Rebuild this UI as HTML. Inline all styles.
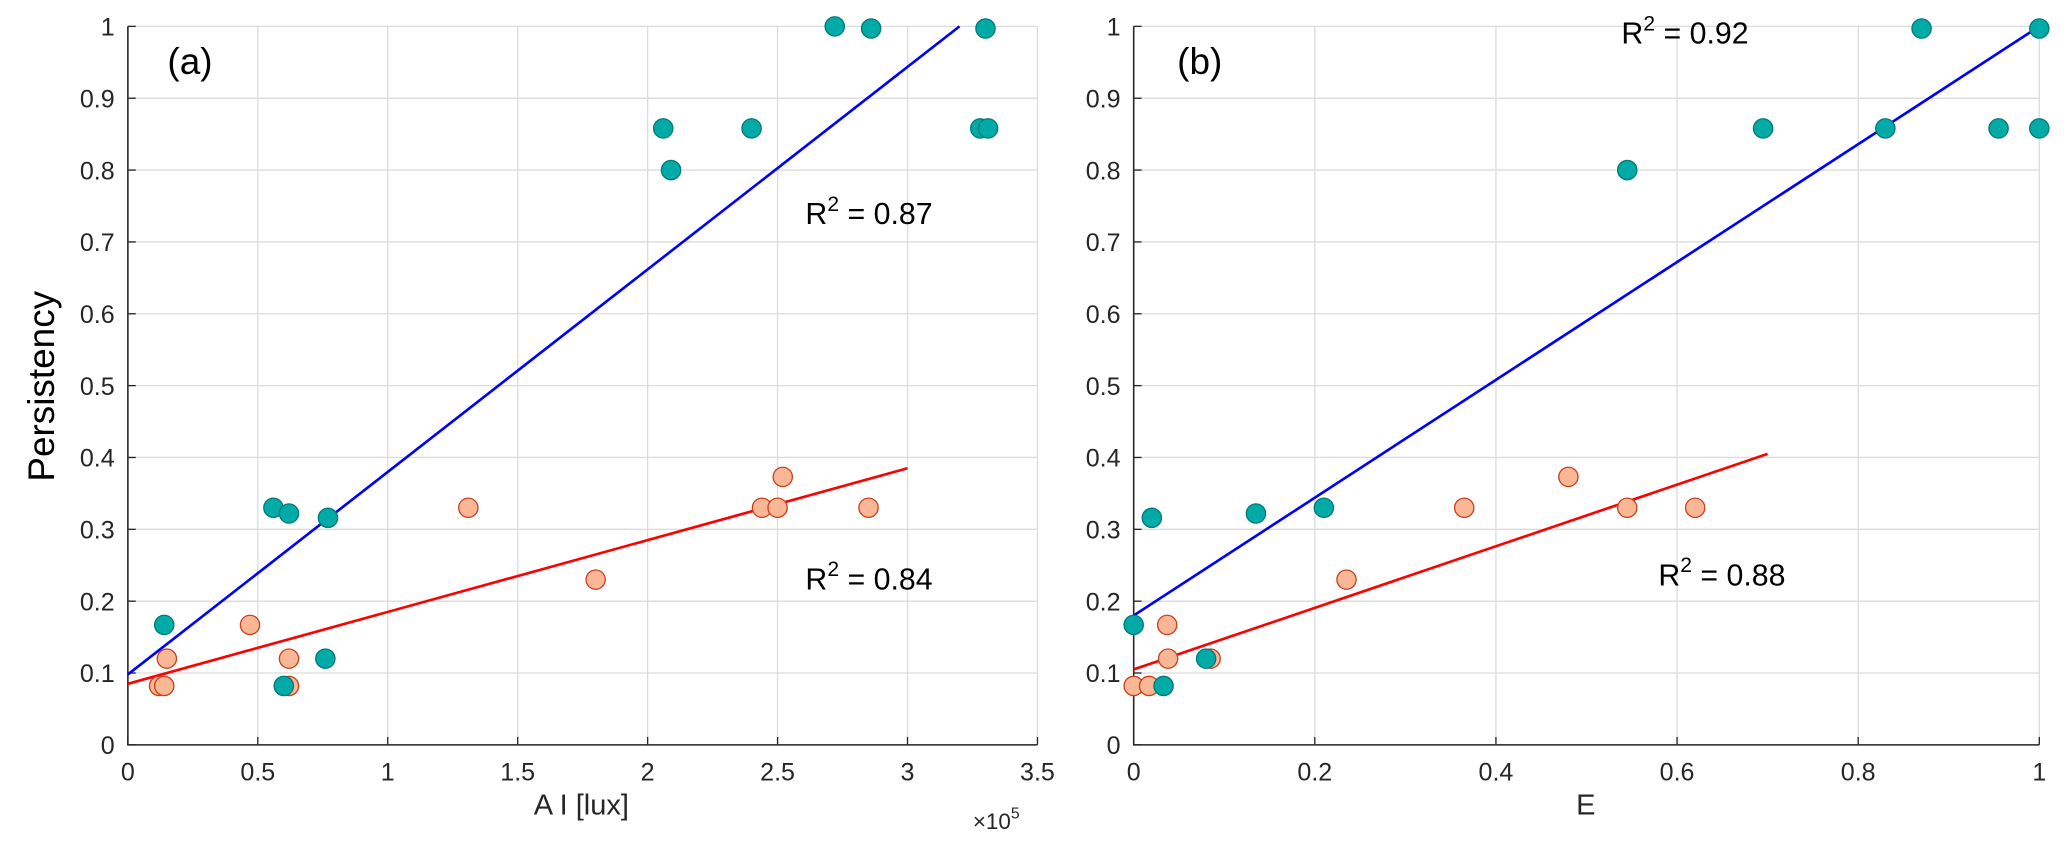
<!DOCTYPE html>
<html><head><meta charset="utf-8"><style>
html,body{margin:0;padding:0;background:#fff;}
svg{display:block;font-family:"Liberation Sans",sans-serif;}
</style></head><body>
<svg id="chart" width="2067" height="851" viewBox="0 0 1568 645.5" preserveAspectRatio="none">
<g id="pa"></g>
<g id="pb"></g>
</svg>
<script>
// Panel (a)
const aTealX=[0.14,0.56,0.62,0.77,0.60,0.76,2.06,2.09,2.40,2.72,2.86,3.30,3.28,3.31];
const aTealY=[0.167,0.33,0.322,0.316,0.082,0.12,0.858,0.80,0.858,1.0,0.997,0.997,0.858,0.858];
const aOrX=[0.12,0.14,0.15,0.47,0.62,0.62,1.31,1.80,2.44,2.50,2.52,2.85];
const aOrY=[0.082,0.082,0.12,0.167,0.12,0.082,0.33,0.23,0.33,0.33,0.373,0.33];
const aBlueFit=[[0,0.098],[3.2,1.0]];
const aRedFit=[[0,0.085],[3.0,0.385]];
const aXTicks=["0","0.5","1","1.5","2","2.5","3","3.5"];
const aXTickVals=[0,0.5,1,1.5,2,2.5,3,3.5];
// Panel (b)
const bTealX=[0,0.02,0.033,0.08,0.135,0.21,0.545,0.695,0.83,0.87,0.955,1.0,1.0];
const bTealY=[0.167,0.316,0.082,0.12,0.322,0.33,0.80,0.858,0.858,0.997,0.858,0.997,0.858];
const bOrX=[0,0.017,0.037,0.038,0.085,0.235,0.365,0.48,0.545,0.62];
const bOrY=[0.082,0.082,0.167,0.12,0.12,0.23,0.33,0.373,0.33,0.33];
const bBlueFit=[[0,0.18],[1,1.0]];
const bRedFit=[[0,0.105],[0.7,0.405]];
const bXTicks=["0","0.2","0.4","0.6","0.8","1"];
const bXTickVals=[0,0.2,0.4,0.6,0.8,1];
const yTickVals=[0,0.1,0.2,0.3,0.4,0.5,0.6,0.7,0.8,0.9,1];
const yTicks=["0","0.1","0.2","0.3","0.4","0.5","0.6","0.7","0.8","0.9","1"];

const NS="http://www.w3.org/2000/svg";
function mk(parent,tag,attrs,text){const e=document.createElementNS(NS,tag);for(const k in attrs)e.setAttribute(k,attrs[k]);if(text!==undefined)e.textContent=text;parent.appendChild(e);return e;}
const Y0=565,Y1=20;
function yS(v){return Y0+(Y1-Y0)*v;}

function panel(g,x0,x1,xmin,xmax,xv,xl,tx,ty,ox,oy,blue,red,label,labX,r1,r1pos,r2,r2pos,xtitle,xtitleX){
  const xS=v=>x0+(x1-x0)*(v-xmin)/(xmax-xmin);
  xv.forEach((v,i)=>{const l=mk(g,'line',{x1:xS(v),x2:xS(v),y1:Y1,y2:Y0,stroke:'#dcdcdc','stroke-width':1});
    
    
    const t=mk(g,'text',{x:xS(v),y:Y0+27,'text-anchor':'middle','font-size':19,fill:'#262626','textLength':'','lengthAdjust':'spacingAndGlyphs'},xl[i]);
    t.removeAttribute('textLength');
    
    
    mk(g,'line',{x1:xS(v),x2:xS(v),y1:Y0,y2:Y0-6,stroke:'#262626','stroke-width':1});
  });
  yTickVals.forEach((v,i)=>{const l=mk(g,'line',{x1:x0,x2:x1,y1:yS(v),y2:yS(v),stroke:'#dcdcdc','stroke-width':1});
    
    
    const t=mk(g,'text',{x:x0-10,y:yS(v)+7,'text-anchor':'end','font-size':19,fill:'#262626'},yTicks[i]);
    
    
    mk(g,'line',{x1:x0,x2:x0+6,y1:yS(v),y2:yS(v),stroke:'#262626','stroke-width':1});
  });
  const ax=mk(g,'path',{d:`M${x0},${Y1}V${Y0}H${x1}`,fill:'none',stroke:'#262626','stroke-width':1.2});
  
  
  const lb=mk(g,'line',{x1:xS(blue[0][0]),y1:yS(blue[0][1]),x2:xS(blue[1][0]),y2:yS(blue[1][1]),stroke:'#0000ff','stroke-width':2});
  
  
  const lr=mk(g,'line',{x1:xS(red[0][0]),y1:yS(red[0][1]),x2:xS(red[1][0]),y2:yS(red[1][1]),stroke:'#ff0000','stroke-width':2});
  
  
  ox.forEach((v,i)=>{const c=mk(g,'circle',{cx:xS(v),cy:yS(oy[i]),r:7.3,fill:'#f9b795',stroke:'#c8401e','stroke-width':1});
    
    });
  tx.forEach((v,i)=>{const c=mk(g,'circle',{cx:xS(v),cy:yS(ty[i]),r:7.3,fill:'#00aaa6',stroke:'#007a78','stroke-width':1});
    
    });
  const pl=mk(g,'text',{x:labX,y:56,'font-size':28,fill:'#000'},label);
  
  
  [[r1,r1pos],[r2,r2pos]].forEach(([val,pos])=>{const t=mk(g,'text',{x:pos[0],y:pos[1],'font-size':23,fill:'#000'});
    
    
    mk(t,'tspan',{},'R');mk(t,'tspan',{dy:-10,'font-size':16},'2');mk(t,'tspan',{dy:10},' = '+val);});
  const xt=mk(g,'text',{x:xtitleX,y:Y0+53,'text-anchor':'middle','font-size':22,fill:'#262626'},xtitle);
  
  
}
panel(document.getElementById('pa'),97,787,0,3.5,aXTickVals,aXTicks,aTealX,aTealY,aOrX,aOrY,aBlueFit,aRedFit,'(a)',127,'0.87',[611,170],'0.84',[611,447],'A I [lux]',441);
panel(document.getElementById('pb'),860,1547,0,1,bXTickVals,bXTicks,bTealX,bTealY,bOrX,bOrY,bBlueFit,bRedFit,'(b)',893,'0.92',[1230,33],'0.88',[1258,444],'E',1203);
const svg=document.getElementById('chart');
const yt=mk(svg,'text',{x:0,y:0,'text-anchor':'middle','font-size':28,fill:'#000',transform:'translate(41,293) rotate(-90)'},'Persistency');


const ex=mk(svg,'text',{x:738,y:629,'font-size':17,fill:'#262626'});


mk(ex,'tspan',{},'×10');mk(ex,'tspan',{dy:-8,'font-size':12},'5');
</script>
</body></html>
